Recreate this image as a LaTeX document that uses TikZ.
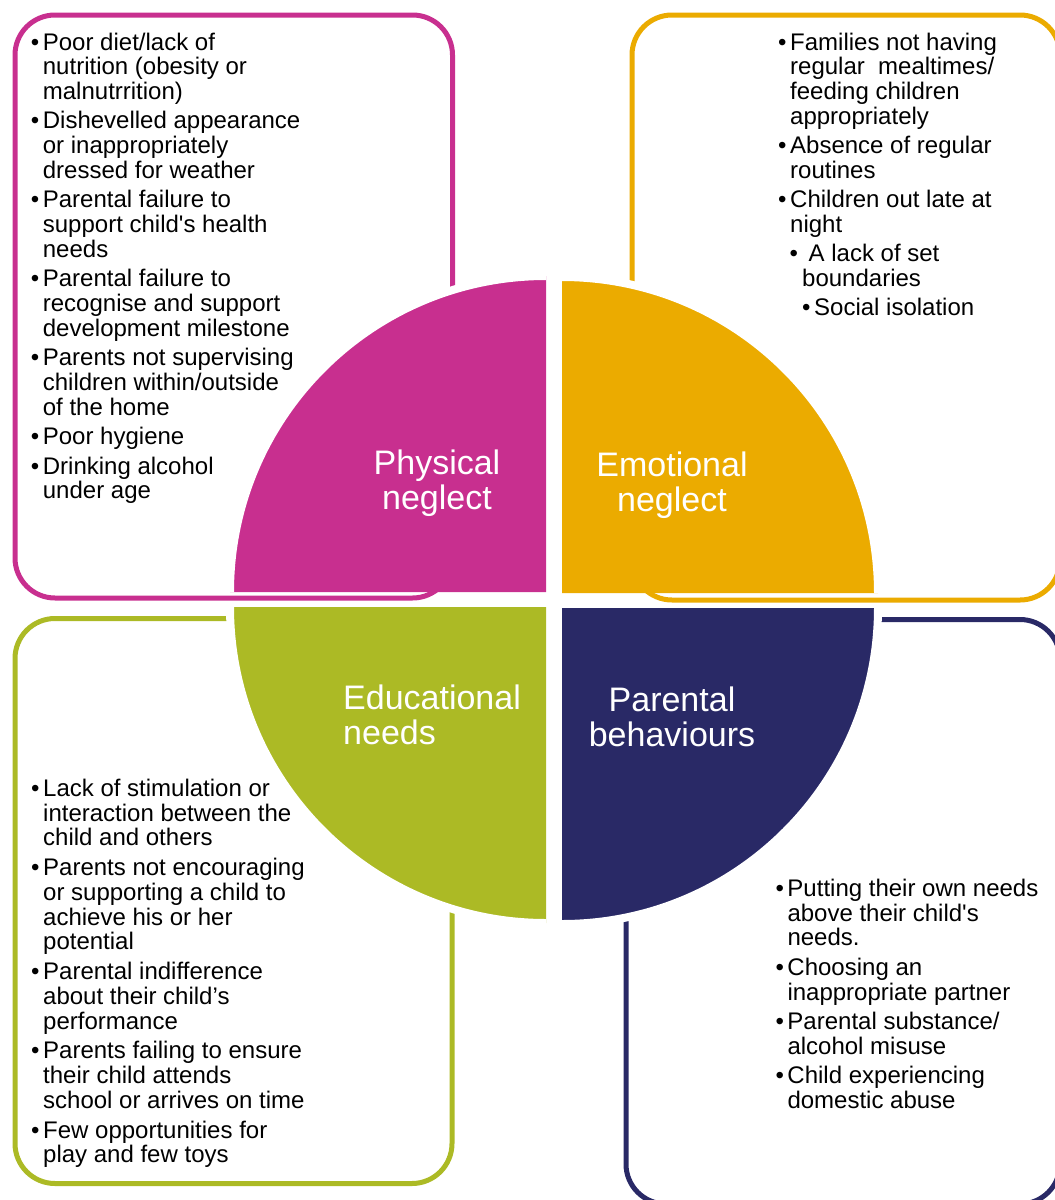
\documentclass[tikz,border=0pt]{standalone}
\usepackage{fontspec}
\setmainfont{Liberation Sans}
\usepackage{tikz}

\definecolor{physc}{HTML}{C82F8F}
\definecolor{emoc}{HTML}{EBAB00}
\definecolor{educ}{HTML}{ACBA25}
\definecolor{parc}{HTML}{292966}

\newcommand{\bpt}{\makebox[12pt][l]{\textbullet}}
\newcommand{\bnx}{\hspace*{12pt}}

\begin{document}
\begin{tikzpicture}
		[x=1pt, y=1pt,
		frame/.style = {line width=5pt, rounded corners=40pt},
		halo/.style = {draw=white, line width=8pt},
		lbl/.style = {text=white, inner sep=0pt, font=\fontsize{34}{35}\selectfont},
		lst/.style = {inner sep=0pt, anchor=base west, font=\fontsize{24}{24.5}\selectfont}]
	\useasboundingbox (0,0) rectangle (1055,-1200);
	\clip (0,0) rectangle (1055,-1200);
	% boxes
	\draw[frame, physc] (15,-15) rectangle (452.5,-598);
	\draw[frame, emoc] (632,-15) rectangle (1060,-600);
	\draw[frame, educ] (15,-618.5) rectangle (452,-1183.5);
	\draw[frame, parc] (626,-619.5) rectangle (1060,-1204);
	% quarters
	\fill[physc] (546,-592) -- (230,-592) arc[start angle=180, end angle=90, radius=316] -- cycle;
	\fill[emoc] (562,-593) -- (562,-277) arc[start angle=90, end angle=0, radius=316] -- cycle;
	\fill[educ] (546,-607) -- (230,-607) arc[start angle=180, end angle=270, radius=316] -- cycle;
	\fill[parc] (562,-608) -- (878,-608) arc[start angle=0, end angle=-90, radius=316] -- cycle;
	\draw[halo] (230,-592) arc[start angle=180, end angle=90, radius=316];
	\draw[halo] (562,-277) arc[start angle=90, end angle=0, radius=316];
	\draw[halo] (230,-607) arc[start angle=180, end angle=270, radius=316];
	\draw[halo] (878,-608) arc[start angle=0, end angle=-90, radius=316];
	% labels
	\node[lbl, anchor=base] (phys) at (437,-474.5) {\begin{tabular}[t]{@{}c@{}}Physical\\neglect\end{tabular}};
	\node[lbl, anchor=base] (emo) at (672,-476.5) {\begin{tabular}[t]{@{}c@{}}Emotional\\neglect\end{tabular}};
	\node[lbl, anchor=base west] (edu) at (343,-709) {\begin{tabular}[t]{@{}l@{}}Educational\\needs\end{tabular}};
	\node[lbl, anchor=base] (par) at (672,-711.5) {\begin{tabular}[t]{@{}c@{}}Parental\\behaviours\end{tabular}};
	% lists
	\node[lst] (physlist) at (30.7,-50) {\begin{tabular}[t]{@{}l@{}}
		\bpt Poor diet/lack of\\ \bnx nutrition (obesity or\\ \bnx malnutrrition)\\[4.7pt]
		\bpt Dishevelled appearance\\ \bnx or inappropriately\\ \bnx dressed for weather\\[4.7pt]
		\bpt Parental failure to\\ \bnx support child\textquotesingle s health\\ \bnx needs\\[4.7pt]
		\bpt Parental failure to\\ \bnx recognise and support\\ \bnx development milestone\\[4.7pt]
		\bpt Parents not supervising\\ \bnx children within/outside\\ \bnx of the home\\[4.7pt]
		\bpt Poor hygiene\\[4.7pt]
		\bpt Drinking alcohol\\ \bnx under age
	\end{tabular}};
	\node[lst] (emolist) at (778,-50) {\begin{tabular}[t]{@{}l@{}}
		\bpt Families not having\\ \bnx regular\ \ mealtimes/\\ \bnx feeding children\\ \bnx appropriately\\[4.5pt]
		\bpt Absence of regular\\ \bnx routines\\[4.5pt]
		\bpt Children out late at\\ \bnx night\\[4.5pt]
		\hspace*{11.5pt}\makebox[19pt][l]{\textbullet}A lack of set\\ \hspace*{24pt}boundaries\\[4.5pt]
		\hspace*{24pt}\makebox[12pt][l]{\textbullet}Social isolation
	\end{tabular}};
	\node[lst] (edulist) at (31,-796.5) {\begin{tabular}[t]{@{}l@{}}
		\bpt Lack of stimulation or\\ \bnx interaction between the\\ \bnx child and others\\[5pt]
		\bpt Parents not encouraging\\ \bnx or supporting a child to\\ \bnx achieve his or her\\ \bnx potential\\[5pt]
		\bpt Parental indifference\\ \bnx about their child’s\\ \bnx performance\\[5pt]
		\bpt Parents failing to ensure\\ \bnx their child attends\\ \bnx school or arrives on time\\[5pt]
		\bpt Few opportunities for\\ \bnx play and few toys
	\end{tabular}};
	\node[lst] (parlist) at (775.3,-896.5) {\begin{tabular}[t]{@{}l@{}}
		\bpt Putting their own needs\\ \bnx above their child\textquotesingle s\\ \bnx needs.\\[4.7pt]
		\bpt Choosing an\\ \bnx inappropriate partner\\[4.7pt]
		\bpt Parental substance/\\ \bnx alcohol misuse\\[4.7pt]
		\bpt Child experiencing\\ \bnx domestic abuse
	\end{tabular}};
\end{tikzpicture}
\end{document}
